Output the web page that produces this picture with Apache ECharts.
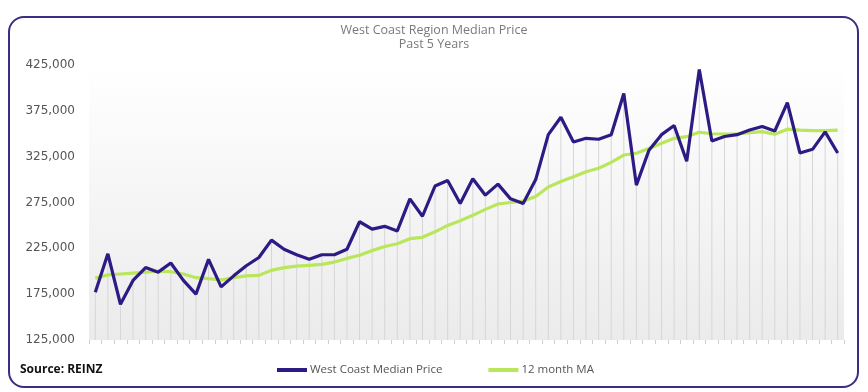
<!DOCTYPE html>
<html>
<head>
<meta charset="utf-8">
<script src="https://cdn.jsdelivr.net/npm/echarts@6/dist/echarts.min.js"></script>
<style>
html,body{margin:0;padding:0;background:#fff;}
#chart{width:868px;height:392px;}
</style>
</head>
<body>
<div id="chart"></div>
<script>
const months = ['M01','M02','M03','M04','M05','M06','M07','M08','M09','M10','M11','M12',
  'M13','M14','M15','M16','M17','M18','M19','M20','M21','M22','M23','M24',
  'M25','M26','M27','M28','M29','M30','M31','M32','M33','M34','M35','M36',
  'M37','M38','M39','M40','M41','M42','M43','M44','M45','M46','M47','M48',
  'M49','M50','M51','M52','M53','M54','M55','M56','M57','M58','M59','M60'];
const medianPrice = [177000,219000,164000,190000,204000,199000,209000,190000,175000,213000,183000,195000,
  206000,215000,234000,224000,218000,213000,218000,218000,224000,254000,246000,249000,
  244000,279000,260000,293000,299000,274000,301000,283000,295000,279000,274000,300000,
  349000,368000,341000,345000,344000,349000,394000,294000,332000,349000,359000,320000,
  420000,342000,347000,349000,354000,358000,353000,384000,329000,333000,352000,329000];
const movingAvg = [192500,196000,197000,198000,199000,200000,199500,197000,193000,192000,190500,193000,
  195000,195500,201000,204000,205500,206500,207500,210000,214000,217500,222500,227000,
  230000,235500,237000,243000,250000,255000,261000,267500,273400,275000,276500,281500,
  292000,298000,303000,308600,312300,318800,326800,328700,334000,339600,345000,346800,
  351600,350000,349700,349700,351200,352300,349400,355000,354000,353400,353400,354000];
const yTicks = [125000,175000,225000,275000,325000,375000,425000];
const seriesNames = ['West Coast Median Price','12 month MA'];

const chart = echarts.init(document.getElementById('chart'));
chart.setOption({
  animation:false,
  backgroundColor:'#fff',
  title:{
    text:'West Coast Region Median Price\nPast 5 Years',
    left:'center', top:18,
    textStyle:{fontFamily:'Open Sans',fontSize:12.5,fontWeight:'normal',color:'#7a7a7a',lineHeight:14}
  },
  graphic:[
    {type:'rect',shape:{x:9,y:17,width:849,height:370,r:15},
     style:{fill:'none',stroke:'#3a2d86',lineWidth:2},silent:true,z:-1},
    {type:'text',left:20,top:364,
     style:{text:'Source: REINZ',font:'bold 12px "Open Sans"',fill:'#111'}}
  ],
  legend:{
    data:seriesNames,
    left:272, top:359,
    icon:'rect', itemWidth:30, itemHeight:4, itemGap:46,
    textStyle:{fontFamily:'Open Sans',fontSize:11.5,color:'#555',padding:[0,0,0,-2]}
  },
  grid:{
    left:89, right:24, top:65, bottom:52,
    show:true, borderWidth:0,
    backgroundColor:new echarts.graphic.LinearGradient(0,0,0,1,[
      {offset:0,color:'#ffffff'},{offset:1,color:'#ebebeb'}
    ])
  },
  xAxis:{
    type:'category', data:months, boundaryGap:true,
    axisLine:{show:false},
    axisTick:{show:true,interval:0,length:4,lineStyle:{color:'#cfcfcf'}},
    axisLabel:{show:false},
    splitLine:{show:false}
  },
  yAxis:{
    type:'value', min:yTicks[0], max:yTicks[yTicks.length-1], interval:50000,
    axisLine:{show:false}, axisTick:{show:false}, splitLine:{show:false},
    axisLabel:{
      margin:14,
      fontFamily:'DejaVu Sans', fontSize:12, color:'#555',
      formatter:v=>v.toLocaleString('en-US')
    }
  },
  series:[
    {type:'bar', name:'drop', data:medianPrice, barWidth:1, silent:true,
     itemStyle:{color:'#d6d6d6'}, z:1},
    {type:'line', name:seriesNames[0], data:medianPrice, symbol:'none',
     lineStyle:{color:'#2d1a84',width:3.2}, itemStyle:{color:'#2d1a84'}, z:4},
    {type:'line', name:seriesNames[1], data:movingAvg, symbol:'none',
     lineStyle:{color:'#b9e65a',width:3.2}, itemStyle:{color:'#b9e65a'}, z:3}
  ]
});
</script>
</body>
</html>
